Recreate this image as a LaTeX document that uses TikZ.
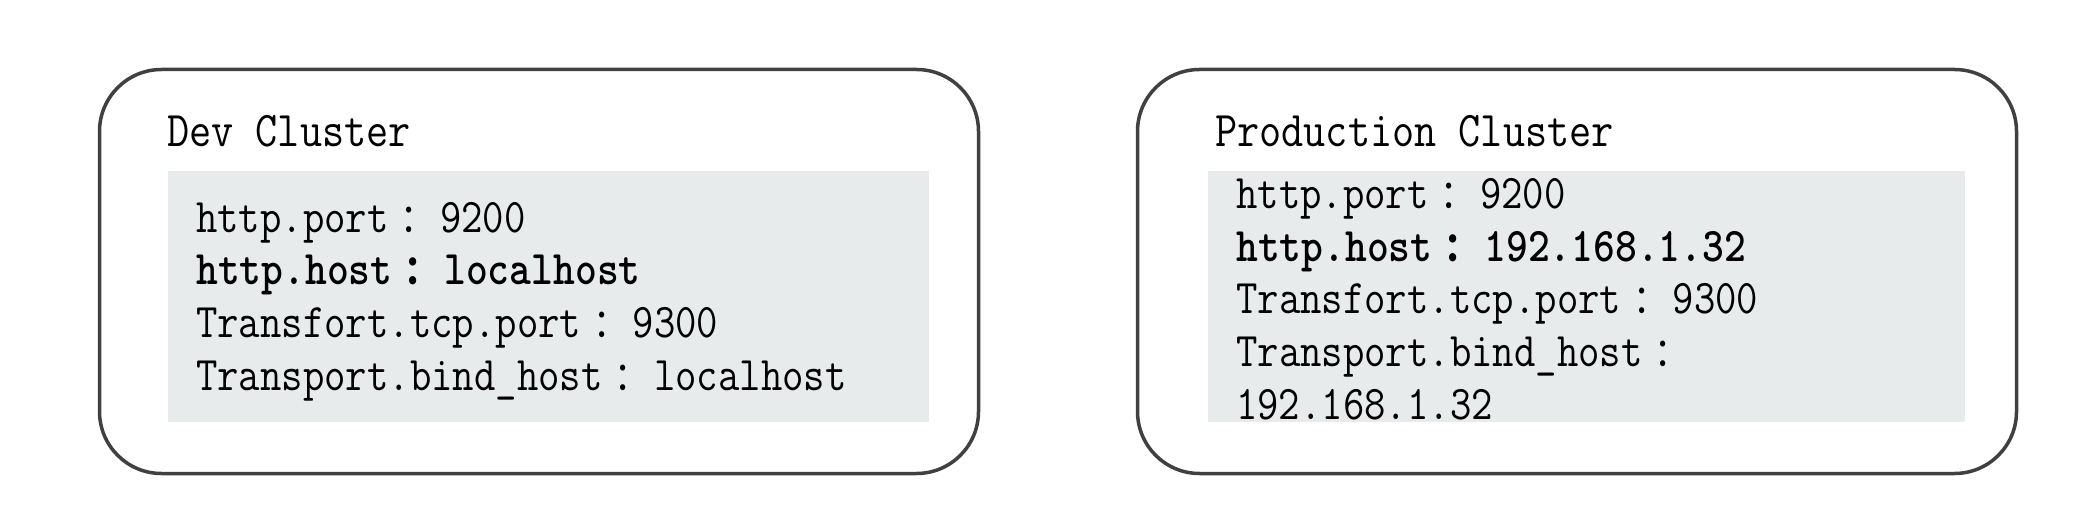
\documentclass[tikz,border=0pt]{standalone}
\usepackage{fontspec}
\usepackage{graphicx}
\newfontfamily\cjk{Noto Sans CJK SC}
\definecolor{frame}{HTML}{404040}
\definecolor{panelgray}{HTML}{E8EBEB}
\newcommand\mono[2][48.3]{\scalebox{0.86}[1]{\fontsize{#1}{#1}\selectfont\ttfamily #2}}
\newcommand\fc{\makebox[35pt][l]{\hspace{14pt}\rlap{\fontsize{40}{40}\selectfont\cjk ：}}}
\tikzset{
  cluster/.style={draw=frame, line width=3.5pt, rounded corners=62pt, minimum width=879pt, minimum height=404pt, inner sep=0pt},
  panel/.style={fill=panelgray, inner sep=0pt, minimum height=251pt},
  cfg/.style={anchor=base west, inner sep=0pt, text=black}
}
\begin{document}
\begin{tikzpicture}[x=1pt,y=-1pt]
\useasboundingbox (0,0) rectangle (2093,526);
% clusters
\node[cluster] (dev) at (539,271.5) {};
\node[cluster] (prod) at (1577,271.5) {};
% panels
\node[panel, minimum width=761pt] (devpanel) at (548.5,296.5) {};
\node[panel, minimum width=757pt] (prodpanel) at (1586.5,296.5) {};
% titles
\node[cfg] (devtitle) at (167,147) {\mono[50]{Dev Cluster}};
\node[cfg] (prodtitle) at (1215,147) {\mono[50]{Production Cluster}};
% dev lines
\node[cfg] (d1) at (196,232.5) {\mono{http.port\fc\ 9200}};
\node[cfg] (d2) at (196,285) {\mono{\bfseries http.host\fc\ localhost}};
\node[cfg] (d3) at (196,337.5) {\mono{Transfort.tcp.port\fc\ 9300}};
\node[cfg] (d4) at (196,390) {\mono{Transport.bind\_host\fc\ localhost}};
% prod lines
\node[cfg] (p1) at (1236,208.5) {\mono{http.port\fc\ 9200}};
\node[cfg] (p2) at (1236,261.2) {\mono{\bfseries http.host\fc\ 192.168.1.32}};
\node[cfg] (p3) at (1236,313.9) {\mono{Transfort.tcp.port\fc\ 9300}};
\node[cfg] (p4) at (1236,366.6) {\mono{Transport.bind\_host\fc}};
\node[cfg] (p5) at (1236,419) {\mono{192.168.1.32}};
\end{tikzpicture}
\end{document}
